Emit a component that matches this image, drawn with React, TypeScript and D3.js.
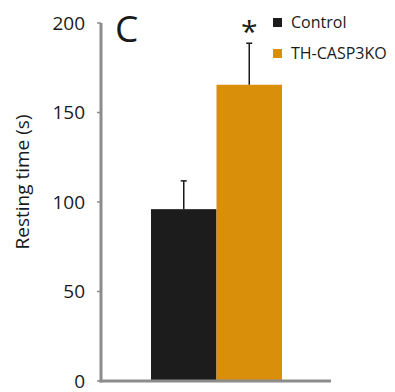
import { useEffect, useRef } from "react"
import * as d3 from "d3"

const groups = ["Control", "TH-CASP3KO"]
const means = [96, 165.5]
const errors = [15.8, 23.2]
const colors = ["#1c1c1c", "#d98f0a"]
const yTicks = [0, 50, 100, 150, 200]

export default function App() {
  const svgRef = useRef<SVGSVGElement>(null)

  useEffect(() => {
    const svg = d3.select(svgRef.current)
    svg.selectAll("*").remove()
    const font = "'Open Sans', sans-serif"

    const x0 = 101, x1 = 331, yTop = 23, yBot = 381
    const y = d3.scaleLinear().domain([0, 200]).range([yBot, yTop])
    const x = d3.scaleBand().domain(groups).range([151, 282]).paddingInner(0)

    // bars
    svg.append("g").selectAll("rect")
      .data(groups)
      .enter().append("rect")
      .attr("x", d => x(d)!)
      .attr("width", x.bandwidth())
      .attr("y", (d, i) => y(means[i]))
      .attr("height", (d, i) => yBot - y(means[i]))
      .attr("fill", (d, i) => colors[i])

    // error bars
    const eb = svg.append("g")
    groups.forEach((g, i) => {
      const cx = x(g)! + x.bandwidth() / 2
      eb.append("line")
        .attr("x1", cx).attr("x2", cx)
        .attr("y1", y(means[i])).attr("y2", y(means[i] + errors[i]))
        .attr("stroke", "#1a1a1a").attr("stroke-width", 1.5)
      eb.append("line")
        .attr("x1", cx - 3).attr("x2", cx + 3)
        .attr("y1", y(means[i] + errors[i])).attr("y2", y(means[i] + errors[i]))
        .attr("stroke", "#1a1a1a").attr("stroke-width", 1.5)
    })

    // asterisk
    svg.append("text")
      .attr("x", x(groups[1])! + x.bandwidth() / 2)
      .attr("y", 41.5)
      .attr("text-anchor", "middle")
      .style("font-family", font)
      .style("font-size", "30px")
      .attr("fill", "#1a1a1a")
      .text("*")

    // axes
    svg.append("line")
      .attr("x1", x0).attr("x2", x0).attr("y1", yTop).attr("y2", yBot + 1.5)
      .attr("stroke", "#8c8c8c").attr("stroke-width", 3)
    svg.append("line")
      .attr("x1", x0 - 1.5).attr("x2", x1).attr("y1", yBot).attr("y2", yBot)
      .attr("stroke", "#8c8c8c").attr("stroke-width", 3)

    const ticks = svg.append("g")
    yTicks.forEach(t => {
      ticks.append("line")
        .attr("x1", x0 - 4).attr("x2", x0)
        .attr("y1", y(t)).attr("y2", y(t))
        .attr("stroke", "#8c8c8c").attr("stroke-width", 1.5)
      ticks.append("text")
        .attr("x", 85).attr("y", y(t)).attr("dy", "0.36em")
        .attr("text-anchor", "end")
        .style("font-family", font).style("font-size", "19px")
        .attr("fill", "#1a1a1a")
        .text(t)
    })

    svg.append("text")
      .attr("transform", "translate(29,182) rotate(-90)")
      .attr("text-anchor", "middle")
      .style("font-family", font).style("font-size", "19px")
      .attr("fill", "#1a1a1a")
      .text("Resting time (s)")

    svg.append("text")
      .attr("x", 115).attr("y", 42)
      .style("font-family", font).style("font-size", "37px")
      .attr("fill", "#1a1a1a")
      .text("C")

    // legend
    const legend = svg.append("g").attr("transform", "translate(273,18)")
    groups.forEach((g, i) => {
      const item = legend.append("g").attr("transform", `translate(0,${i * 31})`)
      item.append("rect").attr("width", 9).attr("height", 9).attr("fill", colors[i])
      item.append("text")
        .attr("x", 18).attr("y", 4.5).attr("dy", "0.36em")
        .style("font-family", font).style("font-size", "16px")
        .attr("fill", "#1a1a1a")
        .text(g)
    })
  }, [])

  return (
    <svg ref={svgRef} width={395} height={392}
      style={{ position: "absolute", left: 0, top: 0, background: "#fff" }} />
  )
}
